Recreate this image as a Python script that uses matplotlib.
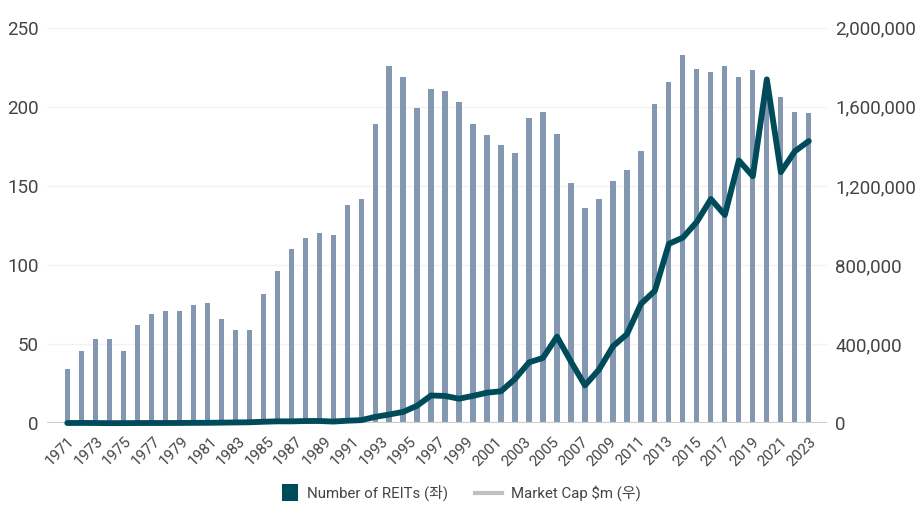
import numpy as np
import matplotlib
matplotlib.use("Agg")
import matplotlib.pyplot as plt
from matplotlib.lines import Line2D
from matplotlib.patches import Patch, Rectangle
from matplotlib.legend_handler import HandlerPatch

plt.rcParams['font.family'] = ['Roboto', 'Noto Sans CJK KR', 'DejaVu Sans']

# data (54 yearly points, 1971-2024)
years = list(range(1971, 2025))
num_reits = [34, 46, 53, 53, 46, 62, 69, 71, 71, 75,
             76, 66, 59, 59, 82, 96, 110, 117, 120, 119,
             138, 142, 189, 226, 219, 199, 211, 210, 203, 189,
             182, 176, 171, 193, 197, 183, 152, 136, 142, 153,
             160, 172, 202, 216, 233, 224, 222, 226, 219, 223,
             210, 206, 197, 196]
market_cap = [1494, 1881, 1394, 712, 900, 1308, 1528, 1412, 1754, 2299,
              2439, 3299, 4257, 5085, 7674, 9924, 9702, 11435, 11662, 8737,
              12968, 15912, 32159, 44306, 57541, 88776, 140534, 138301, 124262, 138715,
              154899, 161937, 224212, 307895, 330691, 438071, 312009, 191651, 271199, 389295,
              450501, 603415, 670334, 907427, 938852, 1018730, 1133698, 1053000, 1328806, 1249186,
              1739000, 1270000, 1375000, 1427000]
# axis labels as they appear under the bars
label_years = list(range(1971, 2024))
left_ticks = [0, 50, 100, 150, 200, 250]
right_ticks = [0, 400000, 800000, 1200000, 1600000, 2000000]

bar_color = '#8497b0'
line_color = '#004b5a'
text_color = '#444444'


def square_right(legend, orig_handle, xdescent, ydescent, width, height, fontsize):
    # square sitting at the right end of the handle slot
    s = fontsize * 1.08
    return Rectangle((-xdescent + width - s, -ydescent + (height - s) / 2), s, s)


fig = plt.figure(figsize=(9.24, 5.2), dpi=100)
ax = fig.add_axes([47/924, 1-423.3/520, (827-47)/924, (423.3-27.7)/520])
ax2 = ax.twinx()

x = np.arange(len(years))
ax.bar(x, num_reits, width=0.37, color=bar_color, zorder=2)
ax.set_ylim(0, 250)
ax.set_yticks(left_ticks)
ax.set_xlim(-1.45, len(years) - 1 + 1.3)
ax.grid(axis='y', color='#f2f2f2', linewidth=1, zorder=0)
ax.set_axisbelow(True)
ax.axhline(0, color='#cccccc', linewidth=1.6, zorder=3)

# labels are spread evenly over the bar range
tick_pos = np.linspace(0, len(years) - 1, len(label_years))
ax.set_xticks(tick_pos[::2])
ax.set_xticklabels([str(y) for y in label_years[::2]], rotation=45,
                   ha='right', rotation_mode='anchor', fontsize=11, color=text_color)
ax.tick_params(axis='x', length=0, pad=8)
ax.tick_params(axis='y', length=0, pad=6, labelsize=13.5, labelcolor=text_color)

ax2.plot(x, market_cap, color=line_color, linewidth=4.2, clip_on=False,
         solid_joinstyle='round', solid_capstyle='round', zorder=4)
ax2.set_ylim(0, 2000000)
ax2.set_yticks(right_ticks)
ax2.set_yticklabels([f"{v:,}" for v in right_ticks])
ax2.tick_params(axis='y', length=0, pad=6, labelsize=13.5, labelcolor=text_color)

for a in (ax, ax2):
    for s in a.spines.values():
        s.set_visible(False)

sq = Patch(facecolor=line_color, edgecolor='none')
ln = Line2D([], [], color='#c0c0c0', linewidth=3)
labels = ['Number of REITs (좌)', 'Market Cap $m (우)']
fig.legend([sq, ln], labels, loc='center', bbox_to_anchor=(0.4935, 1-493/520),
           ncol=2, frameon=False, fontsize=10.8, labelcolor=text_color,
           handlelength=1.85, handletextpad=0.6, columnspacing=1.75,
           handler_map={sq: HandlerPatch(patch_func=square_right)})

fig.savefig('out.png', dpi=100)
